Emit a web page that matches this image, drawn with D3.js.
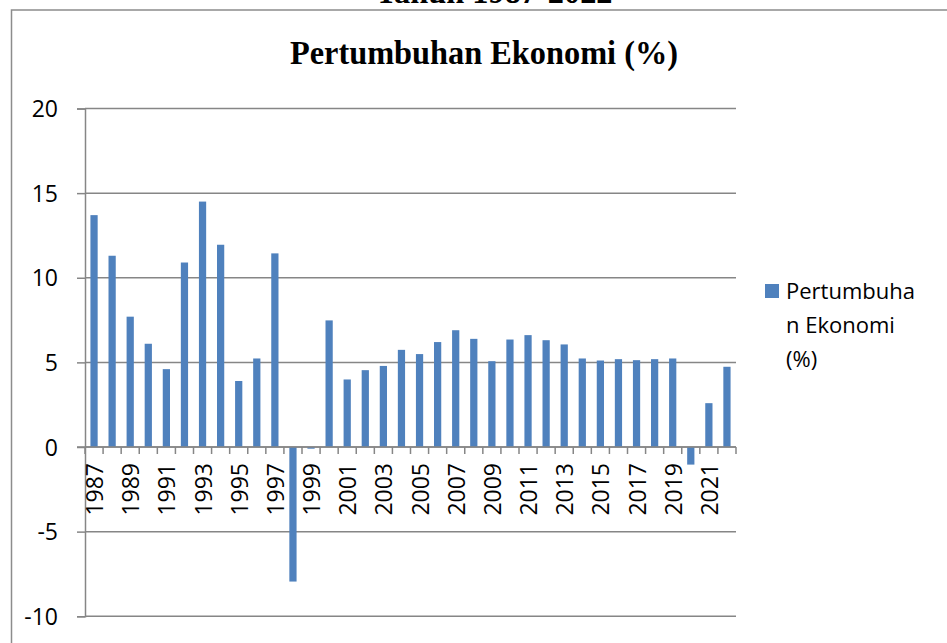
<!DOCTYPE html>
<html>
<head>
<meta charset="utf-8">
<script src="https://cdn.jsdelivr.net/npm/d3@7"></script>
<style>
  html, body { margin: 0; padding: 0; background: #fff; }
  svg { display: block; }
</style>
</head>
<body>
<svg id="chart" width="947" height="643"></svg>
<script>
const years = ["1987","1988","1989","1990","1991","1992","1993","1994","1995","1996",
  "1997","1998","1999","2000","2001","2002","2003","2004","2005","2006",
  "2007","2008","2009","2010","2011","2012","2013","2014","2015","2016",
  "2017","2018","2019","2020","2021","2022"];
const growth = [13.7, 11.3, 7.7, 6.1, 4.6, 10.9, 14.5, 11.95, 3.9, 5.23,
  11.44, -7.95, -0.1, 7.48, 3.99, 4.54, 4.79, 5.74, 5.49, 6.2,
  6.9, 6.39, 5.07, 6.35, 6.61, 6.31, 6.06, 5.23, 5.11, 5.19,
  5.13, 5.19, 5.23, -1.04, 2.59, 4.74];
const yTicks = [-10, -5, 0, 5, 10, 15, 20];
const seriesName = "Pertumbuhan Ekonomi (%)";
const legendLines = ["Pertumbuha", "n Ekonomi", "(%)"];
const topTitle = "Tahun 1987-2022";

const svg = d3.select("#chart");
const pLeft = 85, pRight = 736, pTop = 108.5, pBottom = 616.25;
const grid = "#868686";
const barColor = "#4F81BD";
const sans = "'Open Sans', 'Liberation Sans', sans-serif";
const serif = "'Liberation Serif', 'Times New Roman', serif";

// outer frame
svg.append("rect").attr("x", 11.5).attr("y", 10).attr("width", 960).attr("height", 700)
  .attr("fill", "none").attr("stroke", "#8c8c8c").attr("stroke-width", 1.5);

// titles
svg.append("text").attr("x", 494).attr("y", 3).attr("text-anchor", "middle")
  .attr("font-family", serif).attr("font-weight", "bold").attr("font-size", 34)
  .attr("textLength", 237).attr("lengthAdjust", "spacingAndGlyphs").text(topTitle);
svg.append("text").attr("x", 484).attr("y", 64).attr("text-anchor", "middle")
  .attr("font-family", serif).attr("font-weight", "bold").attr("font-size", 34)
  .attr("textLength", 388).attr("lengthAdjust", "spacingAndGlyphs").text(seriesName);

const xb = d3.scaleBand().domain(years).range([pLeft, pRight]);
const y = d3.scaleLinear().domain([-10, 20]).range([pBottom, pTop]);

// gridlines + y ticks
const yAxis = d3.axisLeft(y).tickValues(yTicks).tickSize(8).tickFormat(d => String(d));
const yg = svg.append("g").attr("transform", `translate(${pLeft},0)`).call(yAxis);
yg.select(".domain").attr("stroke", grid).attr("stroke-width", 1.5);
yg.selectAll(".tick line").attr("stroke", grid).attr("stroke-width", 1.5);
yg.selectAll(".tick text").attr("font-family", sans).attr("font-size", 23)
  .attr("fill", "#000").attr("x", -27).attr("dy", "0.35em");
svg.append("g").selectAll("line").data(yTicks).join("line")
  .attr("x1", pLeft).attr("x2", pRight)
  .attr("y1", d => y(d)).attr("y2", d => y(d))
  .attr("stroke", grid).attr("stroke-width", 1.5);

// bars
svg.append("g").selectAll("rect").data(years).join("rect")
  .attr("x", (d) => xb(d) + (xb.bandwidth() - xb.bandwidth() * 0.4) / 2)
  .attr("width", xb.bandwidth() * 0.4)
  .attr("y", (d, i) => Math.min(y(growth[i]), y(0)))
  .attr("height", (d, i) => Math.abs(y(growth[i]) - y(0)))
  .attr("fill", barColor);

// x axis at zero
svg.append("line").attr("x1", pLeft - 8).attr("x2", pRight).attr("y1", y(0)).attr("y2", y(0))
  .attr("stroke", grid).attr("stroke-width", 1.5);
const boundaries = years.map(d => xb(d)).concat([pRight]);
svg.append("g").selectAll("line").data(boundaries).join("line")
  .attr("x1", d => d).attr("x2", d => d).attr("y1", y(0)).attr("y2", y(0) + 7)
  .attr("stroke", grid).attr("stroke-width", 1.5);
svg.append("g").selectAll("text").data(years.filter((d, i) => i % 2 === 0)).join("text")
  .attr("transform", d => `translate(${xb(d) + xb.bandwidth() / 2 + 1},${y(0) + 16}) rotate(-90)`)
  .attr("text-anchor", "end").attr("dy", "0.35em")
  .attr("font-family", sans).attr("font-size", 23).attr("fill", "#000").text(d => d);

// legend
svg.append("rect").attr("x", 765).attr("y", 284).attr("width", 14).attr("height", 14).attr("fill", barColor);
svg.append("g").selectAll("text").data(legendLines).join("text")
  .attr("x", 786).attr("y", (d, i) => 299 + i * 34)
  .attr("font-family", sans).attr("font-size", 22).attr("fill", "#000").text(d => d);
</script>
</body>
</html>
